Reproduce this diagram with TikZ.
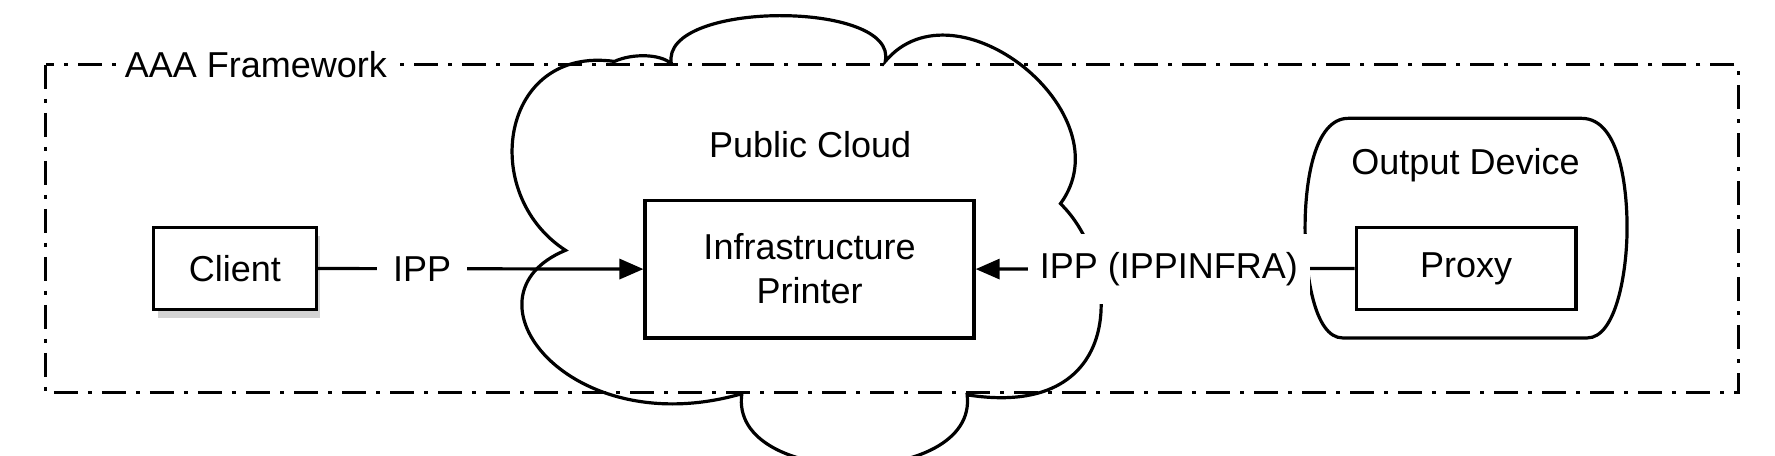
\documentclass[tikz,border=0pt]{standalone}
\usepackage{fontspec}
\setmainfont{Liberation Sans}
\usetikzlibrary{shadows,arrows.meta}
\begin{document}
\begin{tikzpicture}[x=0.01cm,y=-0.01cm,line width=0.8pt,
  every node/.style={font=\fontsize{9}{11}\selectfont},
  box/.style={draw,fill=white,inner sep=0pt,align=center},
  lbl/.style={fill=white,inner sep=1.5pt},
  frame/.style={dash pattern=on 6pt off 2.5pt on 1pt off 2.5pt},
  arr/.style={-{Triangle[length=6pt,width=5pt]}}]
\useasboundingbox (0,0) rectangle (1560,400);
\draw[frame] (40,57) rectangle (1528,345);
\node[lbl,anchor=west] (aaa) at (103,57) {AAA Framework};
% cloud
\draw (590,56) .. controls (580,0) and (790,0) .. (778,54)
  .. controls (840,-20) and (990,100) .. (932,179)
  .. controls (985,230) and (995,370) .. (850,347)
  .. controls (860,430) and (640,430) .. (652,346)
  .. controls (500,390) and (400,260) .. (497,220)
  .. controls (420,170) and (440,40) .. (540,54)
  .. controls (555,47) and (580,47) .. (590,56);
\node (pc) at (712,127) {Public Cloud};
% output device
\draw (1185,104) -- (1390,104) .. controls (1425,104) and (1430,170) .. (1430,200)
  .. controls (1430,240) and (1420,297) .. (1395,297) -- (1180,297)
  .. controls (1155,297) and (1147,240) .. (1147,200)
  .. controls (1147,160) and (1155,104) .. (1185,104);
\node (od) at (1288,145) {Output Device};
\node[box,minimum width=1.43cm,minimum height=0.72cm,drop shadow={opacity=0.35,shadow xshift=1pt,shadow yshift=-2pt}] (client) at (206.5,236) {Client};
\node[box,minimum width=2.89cm,minimum height=1.21cm] (infra) at (711.5,236.5) {Infrastructure\\Printer};
\node[box,minimum width=1.93cm,minimum height=0.72cm] (proxy) at (1288.5,236) {Proxy};
\draw[arr] (client.east) -- (infra.west) node[pos=0.32,lbl,inner xsep=4pt] (ipp1) {IPP};
\draw[arr] (proxy.west) -- (infra.east) node[pos=0.49,lbl,minimum height=0.62cm,inner xsep=3pt] (ipp2) {IPP (IPPINFRA)};
\end{tikzpicture}
\end{document}
